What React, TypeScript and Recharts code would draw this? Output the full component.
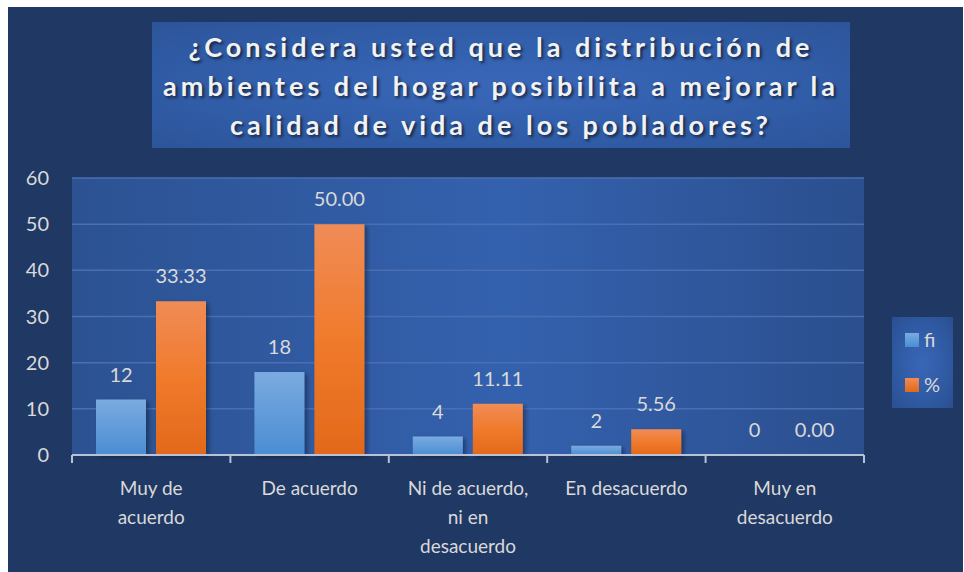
import React from "react";
import { BarChart, Bar, XAxis, YAxis, CartesianGrid, LabelList } from "recharts";

const categories = ["Muy de acuerdo", "De acuerdo", "Ni de acuerdo, ni en desacuerdo", "En desacuerdo", "Muy en desacuerdo"];
const tickLabels = [["Muy de", "acuerdo"], ["De acuerdo"], ["Ni de acuerdo,", "ni en", "desacuerdo"], ["En desacuerdo"], ["Muy en", "desacuerdo"]];
const fiValues = [12, 18, 4, 2, 0];
const pctValues = [33.33, 50.0, 11.11, 5.56, 0.0];
const yTicks = [0, 10, 20, 30, 40, 50, 60];
const titleLines = ["¿Considera usted que la distribución de", "ambientes del hogar posibilita a mejorar la", "calidad de vida de los pobladores?"];
const seriesNames = ["fi", "%"];

const data = categories.map((c, i) => ({ name: c, fi: fiValues[i], pct: pctValues[i], idx: i }));

const FONT = "Lato, 'Open Sans', sans-serif";
const TXT = "#d9d9d9";

const XTick = (props: any) => {
  const { x, y, payload, index } = props;
  const half = payload && payload.offset ? payload.offset : 79;
  const i = payload.index ?? index;
  const lines = tickLabels[i] || [String(payload.value)];
  return (
    <g>
      <line x1={x - half} y1={y - 8} x2={x - half} y2={y} stroke="#b8c2d6" strokeWidth={2} />
      {i === categories.length - 1 && (
        <line x1={x + half} y1={y - 8} x2={x + half} y2={y} stroke="#b8c2d6" strokeWidth={2} />
      )}
      {lines.map((l: string, k: number) => (
        <text key={k} x={x} y={y + 32 + k * 29} textAnchor="middle" fill={TXT} fontSize={19} fontFamily={FONT}>
          {l}
        </text>
      ))}
    </g>
  );
};

export default function App() {
  return (
    <div style={{ position: "fixed", left: 0, top: 0, width: 964, height: 572, background: "#ffffff", overflow: "hidden" }}>
      <div style={{ position: "absolute", left: 8, top: 7, width: 955, height: 565, background: "#203864" }} />
      <div
        style={{
          position: "absolute",
          left: 152,
          top: 22,
          width: 698,
          height: 126,
          background: "radial-gradient(ellipse at 50% 50%, #3966b8 0%, #3360ad 45%, #2c5499 100%)",
          display: "flex",
          flexDirection: "column",
          alignItems: "center",
          justifyContent: "center",
          fontFamily: FONT,
          fontWeight: 700,
          fontSize: 27,
          letterSpacing: 4,
          lineHeight: "39px",
          color: "#f2f2f2",
          textShadow: "2px 2px 3px rgba(0,0,0,0.6)",
          whiteSpace: "nowrap",
        }}
      >
        {titleLines.map((t, i) => (
          <div key={i}>{t}</div>
        ))}
      </div>
      <div style={{ position: "absolute", left: 0, top: 0 }}>
        <BarChart width={964} height={572} data={data} margin={{ top: 178, right: 100, bottom: 7, left: 12 }} barSize={50} barGap={10}>
          <defs>
            <linearGradient id="plotBg" x1="0" y1="0" x2="1" y2="0">
              <stop offset="0%" stopColor="#2c5292" />
              <stop offset="55%" stopColor="#3461ae" />
              <stop offset="100%" stopColor="#2b4f8e" />
            </linearGradient>
            <linearGradient id="fiGrad" x1="0" y1="0" x2="0" y2="1">
              <stop offset="0%" stopColor="#7aabdf" />
              <stop offset="100%" stopColor="#4a8dd3" />
            </linearGradient>
            <linearGradient id="pctGrad" x1="0" y1="0" x2="0" y2="1">
              <stop offset="0%" stopColor="#f08c56" />
              <stop offset="50%" stopColor="#f07a2c" />
              <stop offset="100%" stopColor="#e2691a" />
            </linearGradient>
            <filter id="barShadow" x="-20%" y="-20%" width="150%" height="140%">
              <feDropShadow dx="3" dy="2" stdDeviation="2" floodColor="#000" floodOpacity="0.35" />
            </filter>
          </defs>
          <CartesianGrid vertical={false} stroke="#4a6fb2" strokeWidth={1.5} fill="url(#plotBg)" />
          <YAxis
            domain={[0, 60]}
            ticks={yTicks}
            width={60}
            axisLine={false}
            tickLine={false}
            tick={{ fill: TXT, fontSize: 20, fontFamily: FONT }}
            tickMargin={17}
            interval={0}
          />
          <XAxis
            dataKey="name"
            height={110}
            axisLine={{ stroke: "#b8c2d6", strokeWidth: 2 }}
            tickLine={false}
            tick={<XTick />}
            interval={0}
          />
          <Bar dataKey="fi" name={seriesNames[0]} fill="url(#fiGrad)" isAnimationActive={false} filter="url(#barShadow)" minPointSize={0.01}>
            <LabelList dataKey="fi" position="top" offset={18} fill={TXT} fontSize={20} fontFamily={FONT} />
          </Bar>
          <Bar dataKey="pct" name={seriesNames[1]} fill="url(#pctGrad)" isAnimationActive={false} filter="url(#barShadow)" minPointSize={0.01}>
            <LabelList
              dataKey="pct"
              position="top"
              offset={18}
              fill={TXT}
              fontSize={20}
              fontFamily={FONT}
              formatter={(v: any) => Number(v).toFixed(2)}
            />
          </Bar>
        </BarChart>
      </div>
      <div
        style={{
          position: "absolute",
          left: 892,
          top: 317,
          width: 61,
          height: 91,
          background: "radial-gradient(ellipse at 50% 50%, #3966b8 0%, #2f5aa2 60%, #2a4f90 100%)",
          fontFamily: FONT,
          fontSize: 20,
          color: TXT,
        }}
      >
        <div style={{ position: "absolute", left: 13, top: 16, width: 14, height: 14, background: "linear-gradient(#7aabdf, #4a8dd3)" }} />
        <div style={{ position: "absolute", left: 32, top: 9, lineHeight: "26px" }}>{seriesNames[0]}</div>
        <div style={{ position: "absolute", left: 13, top: 61, width: 14, height: 14, background: "linear-gradient(#f08c56, #e2691a)" }} />
        <div style={{ position: "absolute", left: 32, top: 54, lineHeight: "26px" }}>{seriesNames[1]}</div>
      </div>
    </div>
  );
}
